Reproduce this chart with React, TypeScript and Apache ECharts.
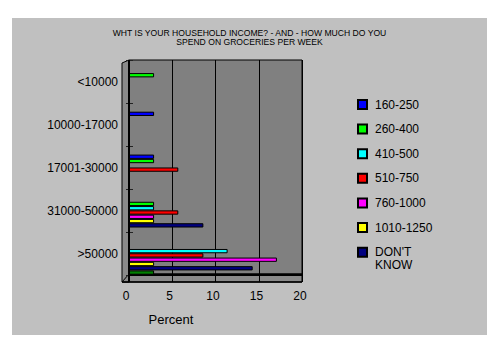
import React, { useEffect, useRef } from "react";
import * as echarts from "echarts";

const categories = ["<10000", "10000-17000", "17001-30000", "31000-50000", ">50000"];
const seriesNames = ["160-250", "260-400", "410-500", "510-750", "760-1000", "1010-1250", "DON'T KNOW", "OTHER"];
const seriesColors = ["#0000ff", "#00ff00", "#00ffff", "#ff0000", "#ff00ff", "#ffff00", "#000080", "#008000"];
const s160_250 = [null, 2.9, 2.9, null, null];
const s260_400 = [2.9, null, 2.9, 2.9, null];
const s410_500 = [null, null, null, 2.9, 11.4];
const s510_750 = [null, null, 5.7, 5.7, 8.6];
const s760_1000 = [null, null, null, 2.9, 17.1];
const s1010_1250 = [null, null, null, 2.9, 2.9];
const sDontKnow = [null, null, null, 8.6, 14.3];
const sOther = [null, null, null, null, 2.9];
const seriesValues = [s160_250, s260_400, s410_500, s510_750, s760_1000, s1010_1250, sDontKnow, sOther];
const xMin = 0;
const xMax = 20;
const xInterval = 5;
const title = "WHT IS YOUR HOUSEHOLD INCOME? - AND - HOW MUCH DO YOU\nSPEND ON GROCERIES PER WEEK";
const xName = "Percent";

const FONT = "'Liberation Sans', Arial, sans-serif";

export default function App() {
  const ref = useRef<HTMLDivElement>(null);
  useEffect(() => {
    const chart = echarts.init(ref.current!, null, { renderer: "svg" });
    const series = seriesNames.map((name, i) => ({
      name,
      type: "bar",
      xAxisIndex: 0,
      yAxisIndex: 0,
      data: seriesValues[i],
      barGap: "0%",
      barCategoryGap: "20%",
      z: 5,
      itemStyle: { color: seriesColors[i], borderColor: "#000", borderWidth: 1 },
    }));
    const legendText = { fontSize: 12, fontFamily: FONT, color: "#000", padding: [0, 0, 0, 3] };
    const option: any = {
      animation: false,
      backgroundColor: "#ffffff",
      title: {
        text: title,
        left: "center",
        top: 28,
        padding: 0,
        textStyle: { fontSize: 8.6, lineHeight: 9, fontWeight: "normal", fontFamily: FONT, color: "#000" },
      },
      legend: [
        {
          orient: "vertical",
          left: 357,
          top: 98.5,
          padding: 0,
          itemWidth: 9,
          itemHeight: 9,
          itemGap: 12.6,
          icon: "rect",
          data: seriesNames.slice(0, 6),
          textStyle: legendText,
        },
        {
          orient: "vertical",
          left: 357,
          top: 233.5,
          padding: 0,
          itemWidth: 9,
          itemHeight: 9,
          icon: "rect",
          data: [seriesNames[6]],
          formatter: () => " \nDON'T\nKNOW",
          textStyle: { ...legendText, lineHeight: 12.5 },
        },
      ],
      graphic: [
        { type: "rect", z: -20, silent: true, shape: { x: 12, y: 18, width: 475, height: 317 }, style: { fill: "#c0c0c0" } },
        { type: "rect", z: -10, silent: true, shape: { x: 129, y: 60, width: 173, height: 214 }, style: { fill: "#808080", stroke: "#000", lineWidth: 1 } },
        { type: "polygon", z: -10, silent: true, shape: { points: [[122, 63], [129, 60], [129, 282], [122, 282]] }, style: { fill: "#8a8a8a", stroke: "#000", lineWidth: 1 } },
        { type: "polygon", z: -10, silent: true, shape: { points: [[122, 282], [129, 274], [302, 274], [302, 282]] }, style: { fill: "#8a8a8a", stroke: "#000", lineWidth: 1 } },
        { type: "line", z: 50, silent: true, shape: { x1: 129, y1: 60, x2: 129, y2: 282 }, style: { stroke: "#000", lineWidth: 2 } },
        { type: "line", z: 1, silent: true, shape: { x1: 129, y1: 275, x2: 302, y2: 275 }, style: { stroke: "#000", lineWidth: 2 } },
        { type: "line", z: 50, silent: true, shape: { x1: 122, y1: 282, x2: 302, y2: 282 }, style: { stroke: "#000", lineWidth: 1.5 } },
      ],
      grid: [
        { left: 129, top: 64.5, width: 173, height: 214.5 },
        { left: 126, top: 60, width: 174, height: 215 },
        { left: 129, top: 60, width: 173, height: 222 },
      ],
      xAxis: [
        { gridIndex: 0, type: "value", min: xMin, max: xMax, interval: xInterval, show: false },
        {
          gridIndex: 1,
          type: "value",
          min: xMin,
          max: xMax,
          interval: xInterval,
          offset: 7,
          axisLine: { show: false },
          axisTick: { show: false },
          splitLine: { show: false },
          axisLabel: { margin: 8, fontSize: 12, color: "#000", fontFamily: FONT },
          name: xName,
          nameLocation: "middle",
          nameGap: 30.5,
          nameTextStyle: { fontSize: 13, color: "#000", fontFamily: FONT, padding: [0, 84, 0, 0] },
        },
        {
          gridIndex: 2,
          type: "value",
          min: xMin,
          max: xMax,
          interval: xInterval,
          axisLine: { show: false },
          axisTick: { show: false },
          axisLabel: { show: false },
          splitLine: { show: true, lineStyle: { color: "#000", width: 1 } },
        },
      ],
      yAxis: [
        { gridIndex: 0, type: "category", data: categories, inverse: true, show: false },
        {
          gridIndex: 1,
          type: "category",
          data: categories,
          inverse: true,
          offset: 4,
          axisLine: { show: false },
          axisTick: { show: true, inside: true, length: 7, lineStyle: { color: "#222" } },
          axisLabel: { margin: 4, fontSize: 12, color: "#000", fontFamily: FONT },
        },
        { gridIndex: 2, type: "category", data: ["a"], show: false },
      ],
      series,
    };
    chart.setOption(option);
    return () => chart.dispose();
  }, []);
  return <div ref={ref} style={{ position: "absolute", left: 0, top: 0, width: 499, height: 359 }} />;
}
